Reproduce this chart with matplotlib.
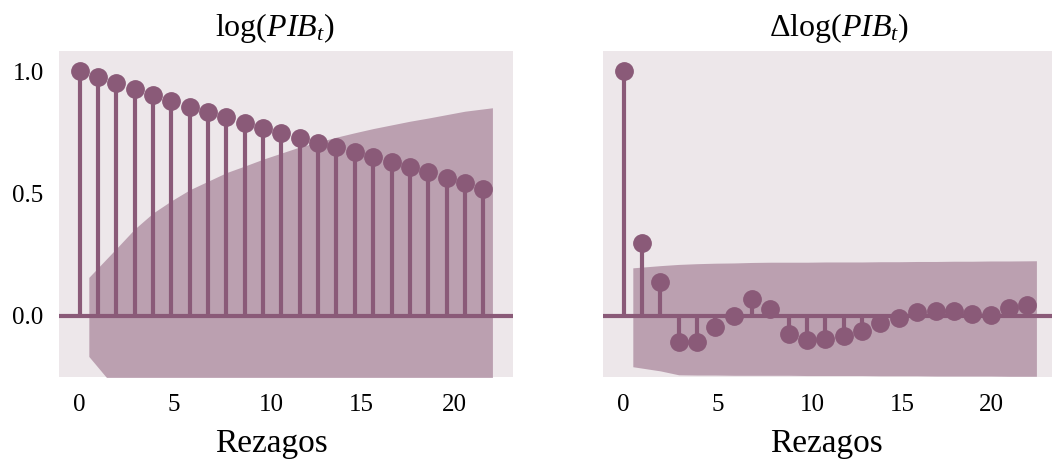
import numpy as np
import matplotlib
matplotlib.use("Agg")
import matplotlib.pyplot as plt
from matplotlib.transforms import ScaledTranslation

plt.rcParams["font.family"] = "Liberation Serif"
plt.rcParams["mathtext.fontset"] = "custom"
plt.rcParams["mathtext.rm"] = "Liberation Serif"
plt.rcParams["mathtext.it"] = "Liberation Serif:italic"

# autocorrelations, lags 0..22
lags = np.arange(23)
acf_nivel = [1.000, 0.974, 0.950, 0.925, 0.902, 0.879, 0.854, 0.833, 0.811, 0.789,
             0.767, 0.746, 0.727, 0.707, 0.691, 0.671, 0.650, 0.630, 0.609, 0.586,
             0.565, 0.543, 0.520]
acf_dif = [1.000, 0.299, 0.137, -0.109, -0.105, -0.046, 0.001, 0.068, 0.027, -0.075,
           -0.098, -0.095, -0.084, -0.064, -0.030, -0.007, 0.014, 0.020, 0.020, 0.007,
           0.003, 0.031, 0.045]

# confidence bands for lags 1..22
banda_sup_nivel = [0.157, 0.275, 0.355, 0.420, 0.470, 0.515, 0.550, 0.585, 0.612, 0.640,
                   0.665, 0.690, 0.710, 0.730, 0.748, 0.765, 0.780, 0.795, 0.808, 0.822,
                   0.836, 0.850]
banda_inf_nivel = [-0.166, -0.300, -0.360, -0.425, -0.475, -0.520, -0.555, -0.590, -0.615, -0.645,
                   -0.670, -0.695, -0.715, -0.735, -0.750, -0.770, -0.785, -0.800, -0.810, -0.825,
                   -0.840, -0.855]
banda_sup_dif = [0.196, 0.205, 0.210, 0.213, 0.215, 0.216, 0.218, 0.219, 0.219, 0.219,
                 0.220, 0.220, 0.220, 0.221, 0.221, 0.222, 0.222, 0.223, 0.223, 0.224,
                 0.224, 0.225]
banda_inf_dif = [-0.208, -0.225, -0.241, -0.242, -0.242, -0.243, -0.243, -0.243, -0.243, -0.244,
                 -0.244, -0.244, -0.244, -0.245, -0.245, -0.245, -0.246, -0.246, -0.246, -0.246,
                 -0.247, -0.247]

titulos = [r"$\log(PIB_t)$", r"$\Delta\log(PIB_t)$"]
xticks = [0, 5, 10, 15, 20]

color = "#8a5a78"
fondo = "#ede7ea"

fig = plt.figure(figsize=(10.52, 4.61), dpi=100)
ax1 = fig.add_axes([0.0561, 0.1822, 0.4316, 0.7072])
ax2 = fig.add_axes([0.5732, 0.1822, 0.4316, 0.7072], sharey=ax1)

paneles = [
    (ax1, acf_nivel, banda_sup_nivel, banda_inf_nivel, 0.475, 0.468, [0, 2, 8, 7, 8]),
    (ax2, acf_dif, banda_sup_dif, banda_inf_dif, 0.520, 0.491, [0, 2, 5, 4, 1]),
]

for i, (ax, acf, sup, inf, xt, xl, desp) in enumerate(paneles):
    ax.set_facecolor(fondo)
    for s in ax.spines.values():
        s.set_visible(False)

    # band x positions: lag 1 shifted to 0.5, last lag to 22.5
    xb = lags[1:].astype(float)
    xb[0] -= 0.5
    xb[-1] += 0.5
    ax.fill_between(xb, inf, sup, color=color, alpha=0.5, lw=0, zorder=1)

    ax.axhline(0, color=color, lw=3, zorder=2)
    ax.vlines(lags, 0, acf, color=color, lw=3, zorder=3)
    ax.plot(lags, acf, "o", color=color, ms=12.5, zorder=4)

    ax.set_xlim(-1.125, 23.625)
    ax.set_ylim(-0.25, 1.082)
    ax.set_xticks(xticks)
    ax.set_yticks([0.0, 0.5, 1.0])
    ax.tick_params(axis="x", length=0, pad=12, labelsize=18)
    ax.tick_params(axis="y", length=0, pad=11, labelsize=18)
    # small horizontal nudges of the x tick labels (in pixels)
    for lbl, dx in zip(ax.get_xticklabels(), desp):
        lbl.set_transform(lbl.get_transform() + ScaledTranslation(dx / 100, 0, fig.dpi_scale_trans))
    ax.set_title(titulos[i], fontsize=23, x=xt, pad=11)
    ax.set_xlabel("Rezagos", fontsize=24, labelpad=9, x=xl)

ax2.tick_params(labelleft=False)

fig.savefig("out.png", dpi=100)
